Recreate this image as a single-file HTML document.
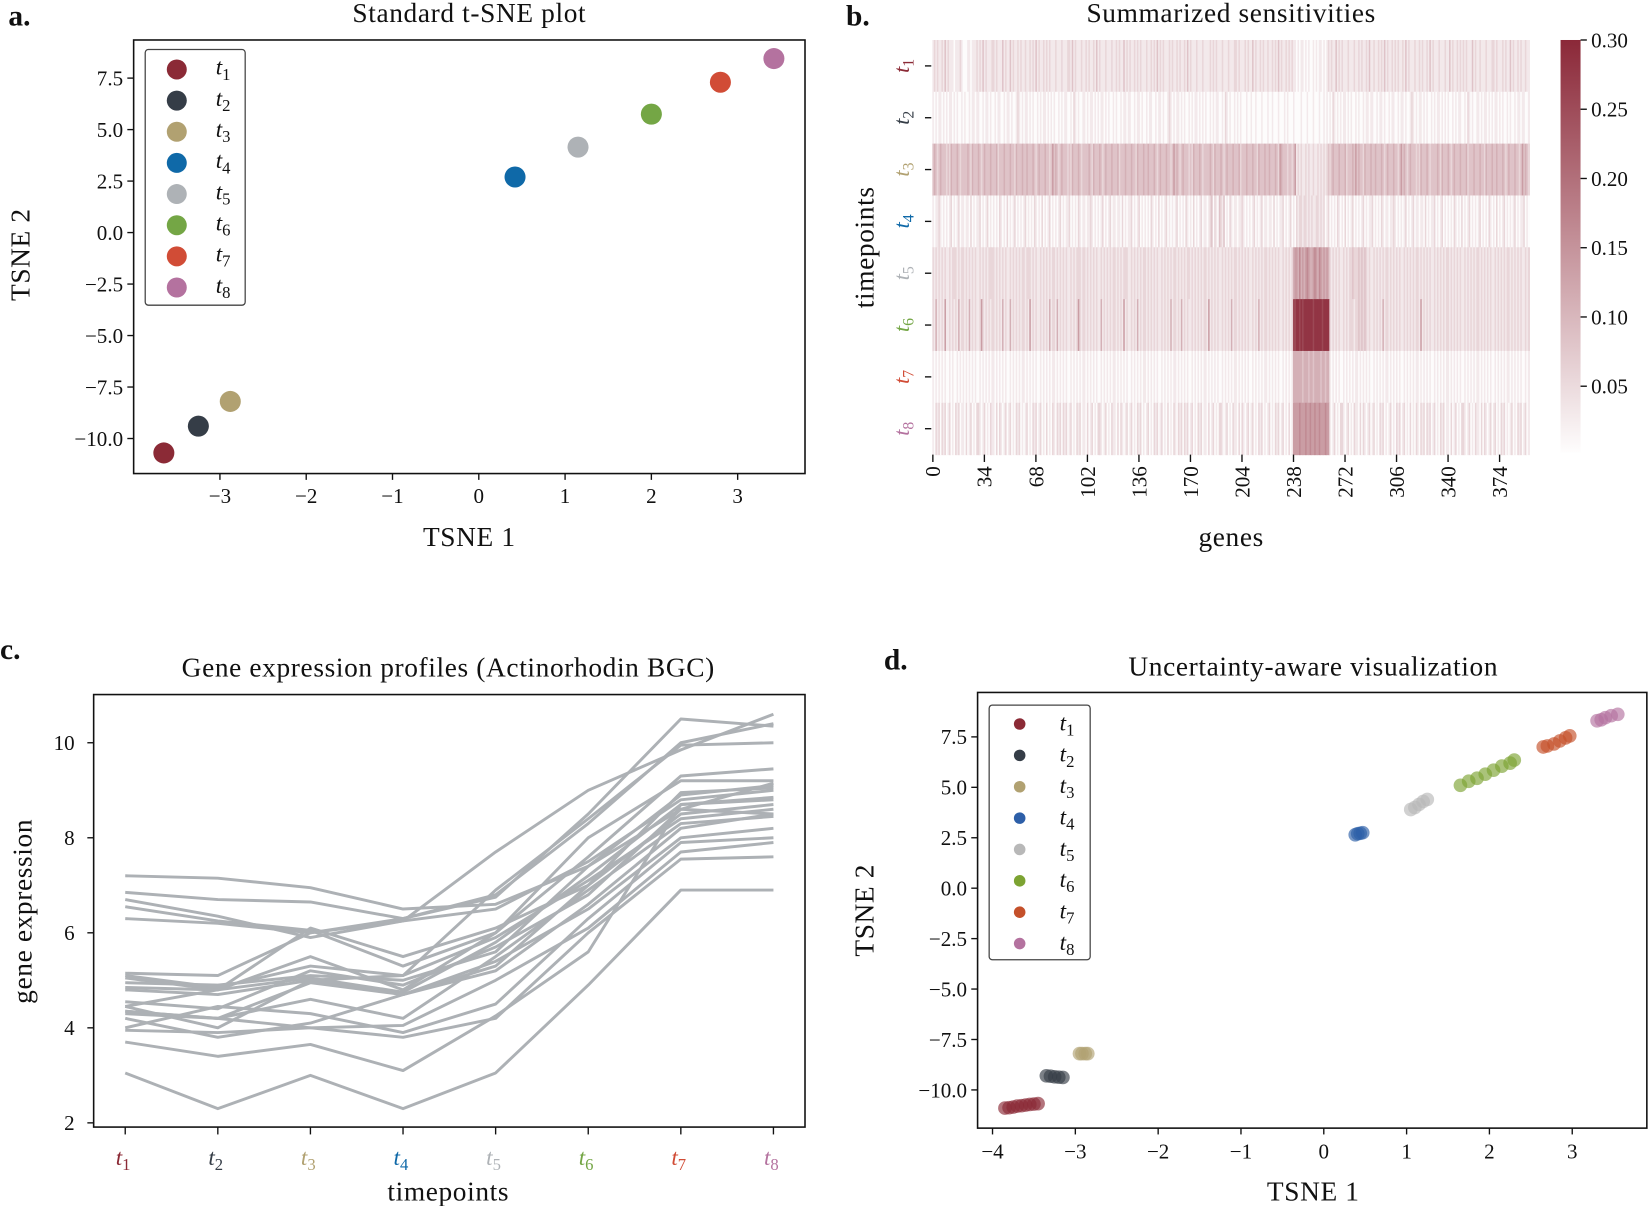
<!DOCTYPE html>
<html><head><meta charset="utf-8">
<style>
html,body{margin:0;padding:0;background:#fff;}
svg{display:block;}
text{font-family:"Liberation Serif",serif;fill:#111;}
</style></head>
<body>
<svg id="fig" width="1650" height="1206" viewBox="0 0 1568 1146" preserveAspectRatio="none" xmlns="http://www.w3.org/2000/svg"></svg>
<script>
// ---------- DATA ----------
const tpLabels = ["1","2","3","4","5","6","7","8"];
const tpColorsA = ["#8b2a36","#353d47","#b1a171","#0f69a8","#aeb2b6","#74a645","#d14c36","#b4729f"];
const tpColorsD = ["#8b2a36","#353d47","#b1a171","#2d5fa8","#b8b8b8","#7ca332","#c4502a","#b4729f"];
// Panel a
const tsneAx = [-3.65,-3.25,-2.88,0.42,1.15,2.0,2.8,3.42];
const tsneAy = [-10.7,-9.4,-8.2,2.7,4.15,5.75,7.3,8.45];
const aXTicks = [-3,-2,-1,0,1,2,3];
const aYTicks = [7.5,5.0,2.5,0.0,-2.5,-5.0,-7.5,-10.0];
// Panel b
const geneTicks = [0,34,68,102,136,170,204,238,272,306,340,374];
const cbTicks = [0.30,0.25,0.20,0.15,0.10,0.05];
const sensRows = [
"1212112131"+"2111011121"+"0001101112"+"1213121112"+"2121113121"+"1312112121"+"1211212131"+"2112121211"+"1211121112"+"2131211121"+"1212112131"+"2111211121"+"1212113121"+"2112121211"+"1211212131"+"2121112121"+"1212112131"+"2111211121"+"1112121211"+"1211121112"+"2121112121"+"1312112121"+"1211212131"+"2112121211"+"0101101010"+"0101011010"+"1212113121"+"2111211121"+"1212112131"+"1211212131"+"2112121211"+"2131211121"+"1212112131"+"2111211121"+"1312112121"+"2121113121"+"1211121112"+"2121112121"+"1312112121"+"1211",
"1010110101"+"0110101001"+"0100101101"+"1001011010"+"0101100101"+"1010012101"+"0110101001"+"0101101010"+"1001010110"+"0102101001"+"1010110101"+"0110101001"+"0100101101"+"1001011010"+"0101100101"+"1010012101"+"0110101001"+"0101101010"+"1001010110"+"0102101001"+"0101000100"+"1001000100"+"0100100010"+"0010100010"+"0001000100"+"0100010010"+"1010210101"+"0110101001"+"0100101101"+"1001011010"+"0101100101"+"1010012101"+"0110101001"+"0101101010"+"1001010110"+"0102101001"+"1010110101"+"0110101001"+"0100101101"+"1001",
"3432343332"+"3243334323"+"3334324333"+"4323433343"+"3342333433"+"3433243334"+"3343334323"+"4333433235"+"3432343332"+"3243334323"+"3334324333"+"4323433343"+"3342333433"+"3433243334"+"3343334323"+"4333433235"+"3432343332"+"3243334323"+"3334324333"+"4323433343"+"3342333433"+"3433243334"+"3343334325"+"4333233235"+"1212112121"+"1211212121"+"2323433343"+"3342333435"+"3433243334"+"3343334323"+"4333433235"+"3432343332"+"3243334323"+"3334324333"+"4323433343"+"3342333433"+"3433243334"+"3343334323"+"4333433235"+"3432",
"1011210101"+"0120101201"+"1011020101"+"1201012010"+"1010210102"+"0101201010"+"1201010210"+"1020101201"+"0101201011"+"2010102101"+"1011210101"+"0120101201"+"1011020101"+"1201012010"+"1010210102"+"0101201010"+"1201010210"+"1020101201"+"1012302103"+"2130102101"+"1011210101"+"0120101201"+"1011020101"+"1201012010"+"2122122121"+"2112212120"+"1201010210"+"1020101201"+"0101201011"+"2010102101"+"1011210101"+"0120101201"+"1011020101"+"1201012010"+"1010210102"+"0101201010"+"1201010210"+"1020101201"+"0101201011"+"2010",
"2121212121"+"1212221212"+"2121212121"+"1212121222"+"2121212121"+"1212121212"+"2122212121"+"1212121212"+"2121212121"+"1212122212"+"2121212121"+"1212121212"+"2121212221"+"1212121212"+"2121212121"+"1212121212"+"2121212122"+"1212121212"+"2121212121"+"1212121212"+"2121212121"+"1212121212"+"2121212121"+"1212121245"+"5464545654"+"4565465454"+"5421212121"+"1212122322"+"2323232121"+"1212121212"+"2121212121"+"1212121212"+"2121212121"+"1212121212"+"2121212121"+"1212121212"+"2121212121"+"1212121212"+"2121212121"+"1212",
"2141212151"+"1212121412"+"2121412121"+"1252121212"+"2121214121"+"1412121212"+"2121512121"+"1212121412"+"2141212121"+"1212125212"+"2121212121"+"1412121212"+"2121215121"+"1212141212"+"2121212121"+"1212121412"+"2121412121"+"1212121212"+"2151212121"+"1212121412"+"2121212121"+"1212141212"+"2121212121"+"1212121288"+"9989899999"+"9899999899"+"9921212121"+"1212122212"+"2323232121"+"1212121412"+"2121212121"+"1212121212"+"2151212121"+"1212121212"+"2121212121"+"1212121212"+"2121212121"+"1212121212"+"2121212121"+"1212",
"1010101010"+"0101001010"+"1010101010"+"0101010101"+"1010101010"+"0101010101"+"1010101010"+"0101010101"+"1010101010"+"0101010101"+"1010101010"+"0101010101"+"1010101010"+"0101010101"+"1010101010"+"0101010101"+"1010101010"+"0101010101"+"1010101010"+"0101010101"+"1010101010"+"0101010101"+"1010101010"+"0101010144"+"4444344434"+"4344443443"+"4410101010"+"0101010101"+"1010101010"+"0101010101"+"1010101010"+"0101010101"+"1010101010"+"0101010101"+"1010101010"+"0101010101"+"1010101010"+"0101010101"+"1010101010"+"0101",
"1021202120"+"1201021201"+"1020120102"+"2101201021"+"1020210120"+"1201021201"+"0120102120"+"1201020102"+"1021202120"+"1201021201"+"1020120102"+"2101201021"+"1020210120"+"1201021201"+"0120102120"+"1201020102"+"1021202120"+"1201021201"+"1020120102"+"2101201021"+"1020210120"+"1201021201"+"0120102120"+"1201020155"+"5565556556"+"5565565556"+"5510120102"+"2101201021"+"1020210120"+"1201021201"+"0120102120"+"1201020102"+"1021202120"+"1201021201"+"1020120102"+"2101201021"+"1020210120"+"1201021201"+"0120102120"+"1201"
];
const nGenes = 394;
// Panel c
const exprProfiles = [
[7.2,7.15,6.95,6.5,6.6,7.4,8.6,8.5],
[6.85,6.7,6.65,6.3,6.8,8.3,10.0,10.4],
[6.7,6.35,5.9,6.25,7.7,9.0,9.85,10.6],
[6.55,6.25,6.05,5.3,6.0,8.0,9.2,9.2],
[6.3,6.2,6.0,6.25,6.5,7.5,8.8,9.0],
[5.15,5.1,6.0,6.3,6.75,8.5,10.5,10.35],
[5.1,4.85,5.3,5.1,6.9,8.4,9.95,10.0],
[5.05,4.8,5.5,4.8,6.0,7.6,9.3,9.45],
[4.95,4.9,5.1,5.0,5.6,7.4,8.9,9.1],
[4.85,4.8,5.05,4.75,5.8,7.2,8.7,8.85],
[4.8,4.7,5.0,4.7,5.3,7.0,8.5,8.7],
[4.55,4.4,5.2,4.9,5.7,6.8,8.6,9.15],
[4.45,4.0,5.0,5.1,5.9,7.1,8.4,8.6],
[4.35,4.2,4.6,4.2,5.5,6.9,8.3,8.45],
[4.3,4.2,4.95,4.7,5.2,6.6,8.2,8.5],
[4.2,3.8,4.1,4.7,5.4,6.5,8.0,8.2],
[4.0,4.45,4.3,3.9,4.5,6.3,7.9,8.0],
[3.95,3.9,4.0,4.05,5.0,6.1,7.7,7.9],
[4.35,4.2,4.0,3.8,4.2,6.0,7.55,7.6],
[3.7,3.4,3.65,3.1,4.25,5.6,8.7,8.8],
[3.05,2.3,3.0,2.3,3.05,4.9,6.9,6.9],
[4.45,4.8,6.1,5.5,6.1,7.0,8.95,9.05]
];
const cYTicks = [2,4,6,8,10];
// Panel d
const dX = [
[-3.85,-3.8,-3.75,-3.7,-3.65,-3.6,-3.55,-3.5,-3.45],
[-3.35,-3.3,-3.25,-3.2,-3.15],
[-2.95,-2.92,-2.88,-2.85],
[0.38,0.41,0.44,0.47],
[1.05,1.1,1.15,1.2,1.25],
[1.65,1.75,1.85,1.95,2.05,2.15,2.25,2.3],
[2.65,2.7,2.78,2.85,2.92,2.97],
[3.3,3.35,3.4,3.47,3.55]
];
const dY = [
[-10.9,-10.88,-10.85,-10.8,-10.78,-10.75,-10.72,-10.7,-10.68],
[-9.3,-9.32,-9.35,-9.37,-9.38],
[-8.2,-8.2,-8.2,-8.2],
[2.65,2.7,2.72,2.75],
[3.9,4.0,4.15,4.3,4.4],
[5.1,5.3,5.45,5.65,5.85,6.05,6.2,6.35],
[7.0,7.05,7.15,7.3,7.45,7.55],
[8.3,8.35,8.45,8.55,8.62]
];
const dXTicks = [-4,-3,-2,-1,0,1,2,3];
const dYTicks = [7.5,5.0,2.5,0.0,-2.5,-5.0,-7.5,-10.0];

// ---------- HELPERS ----------
const NS = "http://www.w3.org/2000/svg";
const svg = document.getElementById("fig");
const TICK = 20, LAB = 26, TITLE = 26, LS = 0.6;
function mk(tag, attrs, parent, txt){
  const e = document.createElementNS(NS, tag);
  for (const k in attrs) e.setAttribute(k, attrs[k]);
  if (txt !== undefined) e.textContent = txt;
  (parent || svg).appendChild(e);
  return e;
}
function fmt(v){ return (v<0?"\u2212":"") + Math.abs(v).toFixed(1); }
function fmtI(v){ return (v<0?"\u2212":"") + Math.abs(v); }
function tLabel(parent, x, y, i, size, color, anchor){
  const t = mk("text", {x:x, y:y, "font-size":size, "text-anchor":anchor||"start", fill:color||"#111"}, parent);
  mk("tspan", {"font-style":"italic", fill:color||"#111"}, t, "t");
  mk("tspan", {"font-size":size*0.72, dy:size*0.22, fill:color||"#111"}, t, tpLabels[i]);
  return t;
}

// ---------- PANEL A ----------
const gA = mk("g", {});


const A = {x0:127, x1:765, y0:38, y1:450};
const axA = v => 455 + v*82;
const ayA = v => 221 - v*19.57;
let e;
e = mk("text", {x:8, y:24, "font-size":28, "font-weight":"bold"}, gA, "a.");
 
e = mk("text", {x:446, y:21, "font-size":TITLE, "letter-spacing":LS, "text-anchor":"middle"}, gA, "Standard t-SNE plot");
 
e = mk("rect", {x:A.x0, y:A.y0, width:A.x1-A.x0, height:A.y1-A.y0, fill:"none", stroke:"#111", "stroke-width":1.5}, gA);
 
aXTicks.forEach(v=>{
  const x = axA(v);
  mk("line", {x1:x, x2:x, y1:A.y1, y2:A.y1+6, stroke:"#111", "stroke-width":1.3}, gA);
  e = mk("text", {x:x, y:A.y1+28, "font-size":TICK, "text-anchor":"middle"}, gA, fmtI(v));
   
});
aYTicks.forEach(v=>{
  const y = ayA(v);
  mk("line", {x1:A.x0-6, x2:A.x0, y1:y, y2:y, stroke:"#111", "stroke-width":1.3}, gA);
  e = mk("text", {x:A.x0-10, y:y+7, "font-size":TICK, "text-anchor":"end"}, gA, fmt(v));
   
});
e = mk("text", {x:446, y:519, "font-size":LAB, "letter-spacing":LS, "text-anchor":"middle"}, gA, "TSNE 1");
 
e = mk("text", {x:0, y:0, "font-size":LAB, "letter-spacing":LS, "text-anchor":"middle", transform:"translate(28,242) rotate(-90)"}, gA, "TSNE 2");
 
tsneAx.forEach((v,i)=>{
  e = mk("circle", {cx:axA(v), cy:ayA(tsneAy[i]), r:10, fill:tpColorsA[i]}, gA);
   
});
const legA = mk("g", {}, gA);
 
mk("rect", {x:138, y:47, width:95, height:243, rx:3, fill:"#fff", stroke:"#444", "stroke-width":1.2}, legA);
tpLabels.forEach((l,i)=>{
  const y = 66 + i*29.6;
  e = mk("circle", {cx:168, cy:y, r:9.5, fill:tpColorsA[i]}, legA);
   
  e = tLabel(legA, 205, y+5, i, 22);
   
});

// ---------- PANEL B ----------
const gB = mk("g", {});


const B = {x0:886, y0:38, rowH:49.25, gw:1.44};
const cmax = [139,40,56];
function cmap(v){
  const f = Math.max(0, Math.min(1, v/0.30));
  const r = Math.round(255 + (cmax[0]-255)*f), g = Math.round(255 + (cmax[1]-255)*f), b = Math.round(255 + (cmax[2]-255)*f);
  return `rgb(${r},${g},${b})`;
}
e = mk("text", {x:804, y:24, "font-size":28, "font-weight":"bold"}, gB, "b.");
 
e = mk("text", {x:1170, y:21, "font-size":TITLE, "letter-spacing":LS, "text-anchor":"middle"}, gB, "Summarized sensitivities");
 
sensRows.forEach((row,ri)=>{
  const y = B.y0 + ri*B.rowH;
  for (let g=0; g<nGenes; g++){
    const d = parseInt(row[g] || "0", 10);
    const v = 0.004 + d*0.0265 + (d>=8 ? 0.04 : 0);
    const c = mk("rect", {x:B.x0 + g*B.gw, y:y, width:B.gw+0.6, height:B.rowH+0.5, fill:cmap(v)}, gB);
    
    
  }
  const cy = y + B.rowH/2;
  mk("line", {x1:B.x0-7, x2:B.x0-1, y1:cy, y2:cy, stroke:"#111", "stroke-width":1.3}, gB);
  const t = mk("text", {x:0, y:0, "font-size":21, "text-anchor":"middle", transform:`translate(${B.x0-22},${cy}) rotate(-90)`, fill:tpColorsA[ri]}, gB);
   
  mk("tspan", {"font-style":"italic", fill:tpColorsA[ri]}, t, "t");
  mk("tspan", {"font-size":15, dy:4, fill:tpColorsA[ri]}, t, tpLabels[ri]);
});
geneTicks.forEach(v=>{
  const x = B.x0 + v*B.gw + 0.5;
  const yb = B.y0 + 8*B.rowH;
  mk("line", {x1:x, x2:x, y1:yb, y2:yb+7, stroke:"#111", "stroke-width":1.3}, gB);
  e = mk("text", {x:0, y:0, "font-size":TICK, "text-anchor":"end", transform:`translate(${x+7},${yb+11}) rotate(-90)`}, gB, String(v));
   
});
e = mk("text", {x:1170, y:519, "font-size":LAB, "letter-spacing":LS, "text-anchor":"middle"}, gB, "genes");
 
e = mk("text", {x:0, y:0, "font-size":LAB, "letter-spacing":LS, "text-anchor":"middle", transform:"translate(830,235) rotate(-90)"}, gB, "timepoints");
 
// colorbar
const defs = mk("defs", {});
const lg = mk("linearGradient", {id:"cbg", x1:0, y1:1, x2:0, y2:0}, defs);
mk("stop", {offset:"0", "stop-color":cmap(0.003)}, lg);
mk("stop", {offset:"1", "stop-color":cmap(0.30)}, lg);
const CB = {x:1483, w:19, yTop:38, yBot:430};
const cbY = v => CB.yTop + (0.30 - v)/0.05*65.8;
e = mk("rect", {x:CB.x, y:CB.yTop, width:CB.w, height:CB.yBot-CB.yTop, fill:"url(#cbg)"}, gB);
 
cbTicks.forEach(v=>{
  const y = cbY(v);
  mk("line", {x1:CB.x+CB.w, x2:CB.x+CB.w+6, y1:y, y2:y, stroke:"#111", "stroke-width":1.3}, gB);
  e = mk("text", {x:CB.x+CB.w+10, y:y+7, "font-size":TICK}, gB, v.toFixed(2));
   
});

// ---------- PANEL C ----------
const gC = mk("g", {});


const C = {x0:89, x1:765, y0:660, y1:1071};
const cx = i => 119 + i*88;
const cy = v => 1067 - (v-2)*45.15;
e = mk("text", {x:0, y:626, "font-size":28, "font-weight":"bold"}, gC, "c.");
 
e = mk("text", {x:426, y:643, "font-size":TITLE, "letter-spacing":LS, "text-anchor":"middle"}, gC, "Gene expression profiles (Actinorhodin BGC)");
 
exprProfiles.forEach(p=>{
  const pts = p.map((v,i)=>cx(i).toFixed(1)+","+cy(v).toFixed(1)).join(" ");
  e = mk("polyline", {points:pts, fill:"none", stroke:"#adb1b5", "stroke-width":2.8, "stroke-linejoin":"round"}, gC);
   
});
e = mk("rect", {x:C.x0, y:C.y0, width:C.x1-C.x0, height:C.y1-C.y0, fill:"none", stroke:"#111", "stroke-width":1.5}, gC);
 
cYTicks.forEach(v=>{
  const y = cy(v);
  mk("line", {x1:C.x0-6, x2:C.x0, y1:y, y2:y, stroke:"#111", "stroke-width":1.3}, gC);
  e = mk("text", {x:C.x0-18, y:y+7, "font-size":TICK, "text-anchor":"end"}, gC, String(v));
   
});
tpLabels.forEach((l,i)=>{
  const x = cx(i);
  mk("line", {x1:x, x2:x, y1:C.y1, y2:C.y1+7, stroke:"#111", "stroke-width":1.3}, gC);
  e = tLabel(gC, x-2, C.y1+36, i, 22, tpColorsA[i], "middle");
   
});
e = mk("text", {x:426, y:1141, "font-size":LAB, "letter-spacing":LS, "text-anchor":"middle"}, gC, "timepoints");
 
e = mk("text", {x:0, y:0, "font-size":LAB, "letter-spacing":LS, "text-anchor":"middle", transform:"translate(30,866) rotate(-90)"}, gC, "gene expression");
 

// ---------- PANEL D ----------
const gD = mk("g", {});


const D = {x0:929, x1:1565, y0:658, y1:1072};
const dxs = v => 1258 + v*78.7;
const dys = v => 844 - v*19.17;
e = mk("text", {x:840, y:636, "font-size":28, "font-weight":"bold"}, gD, "d.");
 
e = mk("text", {x:1248, y:642, "font-size":TITLE, "letter-spacing":LS, "text-anchor":"middle"}, gD, "Uncertainty-aware visualization");
 
dX.forEach((xs,k)=>{
  xs.forEach((v,j)=>{
    e = mk("circle", {cx:dxs(v), cy:dys(dY[k][j]), r:6.5, fill:tpColorsD[k], "fill-opacity":0.65}, gD);
     
  });
});
e = mk("rect", {x:D.x0, y:D.y0, width:D.x1-D.x0, height:D.y1-D.y0, fill:"none", stroke:"#111", "stroke-width":1.5}, gD);
 
dXTicks.forEach(v=>{
  const x = dxs(v);
  mk("line", {x1:x, x2:x, y1:D.y1, y2:D.y1+6, stroke:"#111", "stroke-width":1.3}, gD);
  e = mk("text", {x:x, y:D.y1+29, "font-size":TICK, "text-anchor":"middle"}, gD, fmtI(v));
   
});
dYTicks.forEach(v=>{
  const y = dys(v);
  mk("line", {x1:D.x0-6, x2:D.x0, y1:y, y2:y, stroke:"#111", "stroke-width":1.3}, gD);
  e = mk("text", {x:D.x0-10, y:y+7, "font-size":TICK, "text-anchor":"end"}, gD, fmt(v));
   
});
e = mk("text", {x:1248, y:1141, "font-size":LAB, "letter-spacing":LS, "text-anchor":"middle"}, gD, "TSNE 1");
 
e = mk("text", {x:0, y:0, "font-size":LAB, "letter-spacing":LS, "text-anchor":"middle", transform:"translate(830,865) rotate(-90)"}, gD, "TSNE 2");
 
const legD = mk("g", {}, gD);
 
mk("rect", {x:940, y:670, width:96, height:242, rx:3, fill:"#fff", stroke:"#444", "stroke-width":1.2}, legD);
tpLabels.forEach((l,i)=>{
  const y = 688 + i*29.8;
  e = mk("circle", {cx:969, cy:y, r:5.5, fill:tpColorsD[i]}, legD);
   
  e = tLabel(legD, 1007, y+6, i, 22);
   
});
</script>
</body></html>
